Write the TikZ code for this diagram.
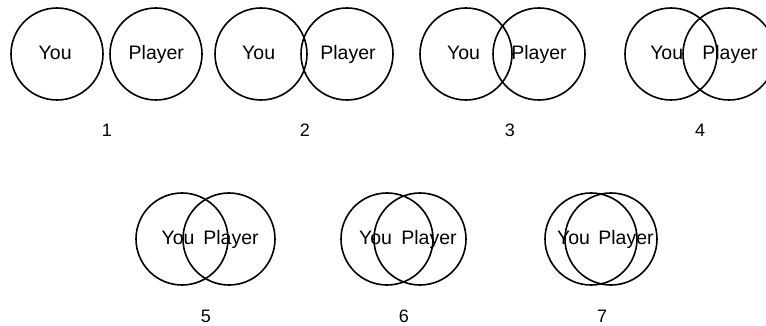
\documentclass[tikz,border=0pt]{standalone}
\usepackage{fontspec}
\setmainfont{Liberation Sans}
\begin{document}
\begin{tikzpicture}[x=1pt,y=-1pt,
  ring/.style={draw=black,line width=1.6pt,circle,minimum size=92pt,inner sep=0pt},
  lbl/.style={anchor=base,inner sep=0pt,font=\fontsize{19.5}{23}\selectfont},
  num/.style={anchor=base,inner sep=0pt,font=\fontsize{18}{22}\selectfont}]
\useasboundingbox (0,0) rectangle (766,326);
% group 1
\node[ring] (c1a) at (57,54) {};
\node[ring] (c1b) at (156,54) {};
\node[lbl] (t1a) at (55.2,59.5) {You};
\node[lbl] (t1b) at (156.3,59.5) {Player};
\node[num] (n1) at (107,137) {1};
% group 2
\node[ring] (c2a) at (261,54) {};
\node[ring] (c2b) at (347,54) {};
\node[lbl] (t2a) at (258.7,59.5) {You};
\node[lbl] (t2b) at (348,59.5) {Player};
\node[num] (n2) at (305,137) {2};
% group 3
\node[ring] (c3a) at (466,54) {};
\node[ring] (c3b) at (539,54) {};
\node[lbl] (t3a) at (463.5,59.5) {You};
\node[lbl] (t3b) at (539,59.5) {Player};
\node[num] (n3) at (510,137) {3};
% group 4
\node[ring] (c4a) at (671,54) {};
\node[ring] (c4b) at (729,54) {};
\node[lbl] (t4a) at (666.7,59.5) {You};
\node[lbl] (t4b) at (730,59.5) {Player};
\node[num] (n4) at (700,137) {4};
% group 5
\node[ring] (c5a) at (182,239) {};
\node[ring] (c5b) at (229,239) {};
\node[lbl] (t5a) at (178,244.5) {You};
\node[lbl] (t5b) at (231,244.5) {Player};
\node[num] (n5) at (206,322) {5};
% group 6
\node[ring] (c6a) at (387,239) {};
\node[ring] (c6b) at (420,239) {};
\node[lbl] (t6a) at (375.5,244.5) {You};
\node[lbl] (t6b) at (429,244.5) {Player};
\node[num] (n6) at (404,322) {6};
% group 7
\node[ring] (c7a) at (591,239) {};
\node[ring] (c7b) at (611,239) {};
\node[lbl] (t7a) at (573.5,244.5) {You};
\node[lbl] (t7b) at (626,244.5) {Player};
\node[num] (n7) at (602,322) {7};
\end{tikzpicture}
\end{document}
